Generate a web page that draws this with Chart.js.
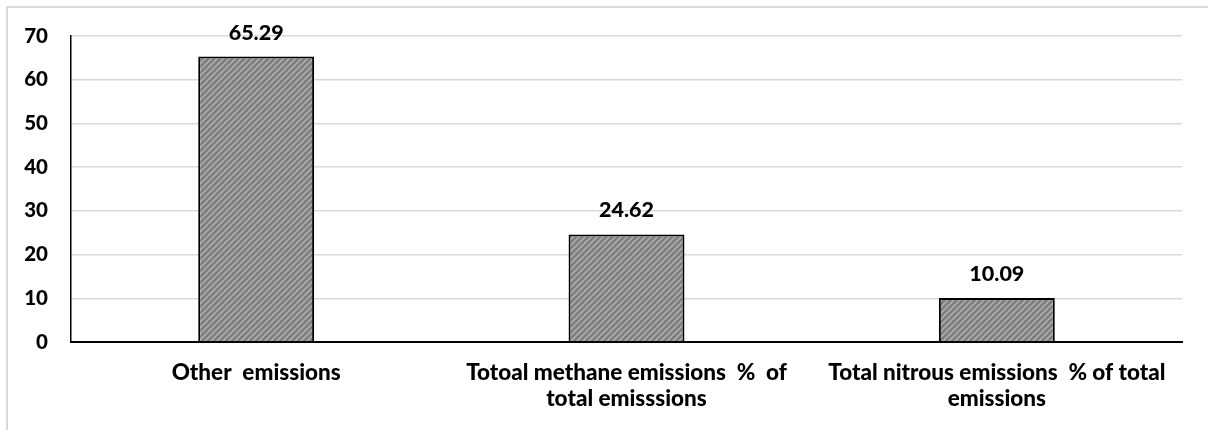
<!DOCTYPE html>
<html>
<head>
<meta charset="utf-8">
<script src="https://cdn.jsdelivr.net/npm/chart.js@4.4.0/dist/chart.umd.min.js"></script>
<style>
    body { margin: 0; background: #fff; }
    #wrap { position: relative; width: 1208px; height: 430px; }
    #frame { position: absolute; left: 6px; top: 6px; right: -4px; bottom: -4px;
             border-top: 2px solid #d9d9d9; border-left: 2px solid #d9d9d9; }
</style>
</head>
<body>
<div id="wrap">
    <div id="frame"></div>
    <canvas id="chart"></canvas>
</div>
<script>
// values
var categories = [
    "Other  emissions",
    ["Totoal methane emissions  %  of", "total emisssions"],
    ["Total nitrous emissions  % of total", "emissions"]
];
var shares = [65.29, 24.62, 10.09];
var yTicks = [0, 10, 20, 30, 40, 50, 60, 70];

// grey diagonal hatch like the excel fill
function makeHatch() {
    var c = document.createElement('canvas');
    c.width = 6; c.height = 6;
    var g = c.getContext('2d');
    g.fillStyle = '#7c7c7c';
    g.fillRect(0, 0, 6, 6);
    g.strokeStyle = '#ababab';
    g.lineWidth = 1.8;
    g.beginPath();
    g.moveTo(-1, 7); g.lineTo(7, -1);
    g.moveTo(-4, 4); g.lineTo(4, -4);
    g.moveTo(2, 10); g.lineTo(10, 2);
    g.stroke();
    return g.createPattern(c, 'repeat');
}

var font = "Lato, 'Open Sans', sans-serif";

// numbers above each bar
var valueLabels = {
    id: 'valueLabels',
    afterDatasetsDraw: function (chart) {
        var ctx = chart.ctx;
        var meta = chart.getDatasetMeta(0);
        ctx.save();
        ctx.font = '900 21.5px ' + font;
        ctx.fillStyle = '#000';
        ctx.textAlign = 'center';
        ctx.textBaseline = 'middle';
        meta.data.forEach(function (bar, i) {
            ctx.fillText(shares[i].toFixed(2), bar.x, bar.y - 24);
        });
        ctx.restore();
    }
};

var ctx = document.getElementById('chart').getContext('2d');
var myChart = new Chart(ctx, {
    type: 'bar',
    data: {
        labels: categories,
        datasets: [{
            data: shares,
            backgroundColor: makeHatch(),
            borderColor: '#000',
            borderWidth: 2,
            categoryPercentage: 1,
            barPercentage: 0.313
        }]
    },
    options: {
        responsive: true,
        maintainAspectRatio: false,
        animation: false,
        layout: { padding: { top: 36, right: 26, left: 0, bottom: 0 } },
        plugins: {
            legend: { display: false },
            tooltip: { enabled: false }
        },
        scales: {
            y: {
                min: 0,
                max: 70,
                afterFit: function (scale) { scale.width = 71; },
                afterBuildTicks: function (scale) {
                    scale.ticks = yTicks.map(function (v) { return { value: v }; });
                },
                grid: { color: '#d9d9d9', lineWidth: 1.5, drawTicks: false },
                border: { display: true, color: '#000', width: 1.5 },
                ticks: {
                    color: '#000',
                    padding: 23,
                    font: { family: font, size: 20.5, weight: '900' }
                }
            },
            x: {
                afterFit: function (scale) { scale.height = 88; },
                grid: { display: false, drawTicks: false },
                border: { display: true, color: '#000', width: 2 },
                ticks: {
                    color: '#000',
                    padding: 18,
                    maxRotation: 0,
                    autoSkip: false,
                    font: { family: font, size: 22.5, weight: '900', lineHeight: 1.15 }
                }
            }
        }
    },
    plugins: [valueLabels]
});
</script>
</body>
</html>
